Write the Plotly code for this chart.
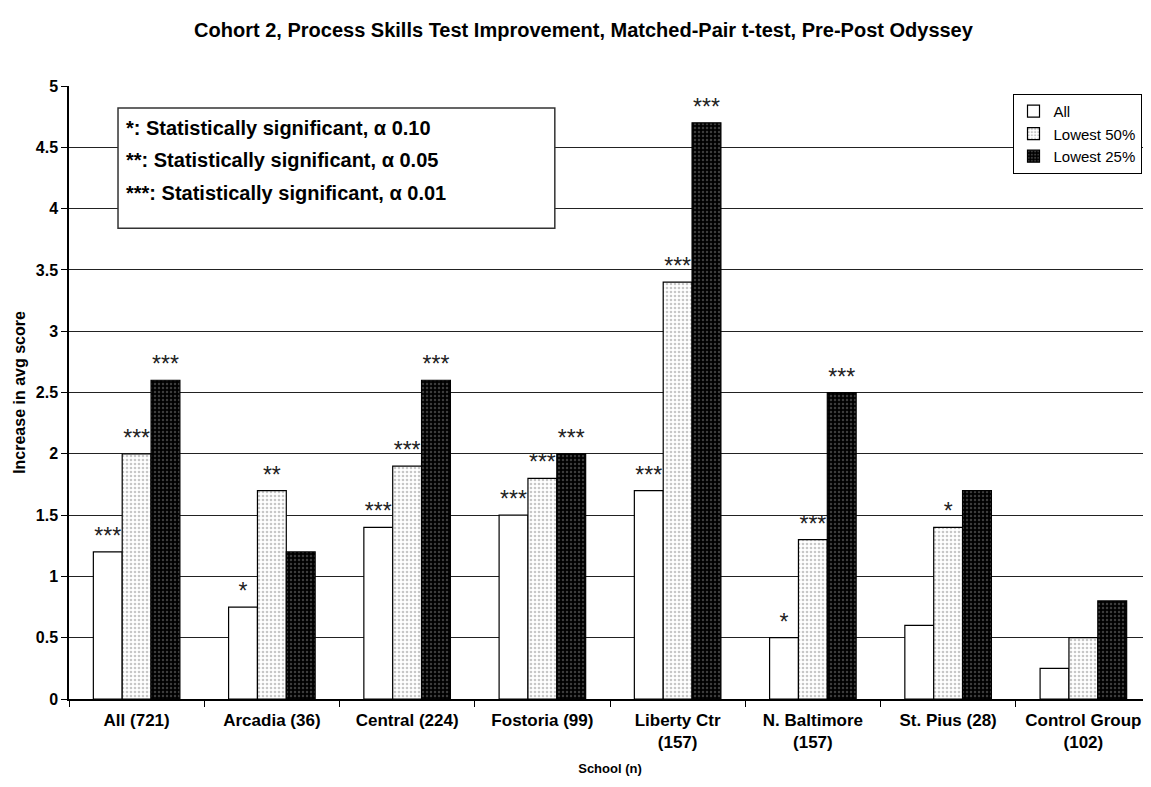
import plotly.graph_objects as go

categories = ["All (721)", "Arcadia (36)", "Central (224)", "Fostoria (99)",
              "Liberty Ctr<br>(157)", "N. Baltimore<br>(157)", "St. Pius (28)", "Control Group<br>(102)"]
all_vals = [1.2, 0.75, 1.4, 1.5, 1.7, 0.5, 0.6, 0.25]
low50_vals = [2.0, 1.7, 1.9, 1.8, 3.4, 1.3, 1.4, 0.5]
low25_vals = [2.6, 1.2, 2.6, 2.0, 4.7, 2.5, 1.7, 0.8]
all_sig = ["***", "*", "***", "***", "***", "*", "", ""]
low50_sig = ["***", "**", "***", "***", "***", "***", "*", ""]
low25_sig = ["***", "", "***", "***", "***", "***", "", ""]
note_lines = ["*: Statistically significant, α 0.10",
              "**: Statistically significant, α 0.05",
              "***: Statistically significant, α 0.01"]

FONT = "Liberation Sans, Arial, sans-serif"

fig = go.Figure()
series = [
    ("All", all_vals, all_sig, dict(color="white", line=dict(color="black", width=1.2))),
    ("Lowest 50%", low50_vals, low50_sig,
     dict(color="white", line=dict(color="black", width=1.2),
          pattern=dict(shape=".", fgcolor="#909090", bgcolor="white", size=4, solidity=0.35))),
    ("Lowest 25%", low25_vals, low25_sig,
     dict(color="black", line=dict(color="black", width=1.2),
          pattern=dict(shape=".", fgcolor="#777777", bgcolor="black", size=4, solidity=0.3))),
]
for name, vals, sig, marker in series:
    fig.add_trace(go.Bar(
        x=categories, y=vals, name=name, marker=marker,
        text=sig, textposition="outside", constraintext="none", cliponaxis=False,
        textfont=dict(family=FONT, size=23, color="#222222"),
    ))

fig.update_layout(
    width=1151, height=787,
    margin=dict(l=61, r=8, t=78, b=96),
    paper_bgcolor="white", plot_bgcolor="white",
    barmode="group", bargap=0.36, bargroupgap=0,
    font=dict(family=FONT, color="black"),
    title=dict(text="<b>Cohort 2, Process Skills Test Improvement, Matched-Pair t-test, Pre-Post Odyssey</b>",
               x=0.5, xanchor="center", y=0.972, yanchor="middle",
               font=dict(family=FONT, size=20, color="black")),
    showlegend=True,
    legend=dict(x=0.872, y=0.987, xanchor="left", yanchor="top",
                bordercolor="black", borderwidth=1, bgcolor="white",
                font=dict(family=FONT, size=15, color="black"),
                tracegroupgap=0, itemwidth=30),
    xaxis=dict(
        type="category", range=[-0.5, 7.5],
        showline=True, linecolor="black", linewidth=1.5,
        ticks="outside", tickson="boundaries", ticklen=6, tickcolor="black",
        tickfont=dict(family=FONT, size=17, color="black"),
        ticklabelstandoff=5,
        title=dict(text="<b>School (n)</b>", font=dict(family=FONT, size=13, color="black"), standoff=13),
        tickprefix="<b>", ticksuffix="</b>",
    ),
    yaxis=dict(
        range=[0, 5], dtick=0.5, tick0=0,
        showline=True, linecolor="black", linewidth=1.5,
        ticks="outside", ticklen=6, tickcolor="black",
        showgrid=True, gridcolor="#222222", gridwidth=1.3,
        zeroline=False,
        tickfont=dict(family=FONT, size=16, color="black"),
        tickprefix="<b>", ticksuffix="</b>",
        title=dict(text="<b>Increase in avg score</b>", font=dict(family=FONT, size=16, color="black"), standoff=6),
    ),
)

fig.add_shape(type="rect", xref="paper", yref="paper", x0=0.0453, x1=0.449, y0=0.768, y1=0.964,
              line=dict(color="#333333", width=1.5), fillcolor="white", layer="above")
for line, yy in zip(note_lines, [0.9315, 0.879, 0.825]):
    fig.add_annotation(
        xref="paper", yref="paper", x=0.0508, y=yy, xanchor="left", yanchor="middle",
        align="left", showarrow=False, text="<b>" + line + "</b>",
        font=dict(family=FONT, size=20, color="black"),
    )

fig.write_html("out.html")
